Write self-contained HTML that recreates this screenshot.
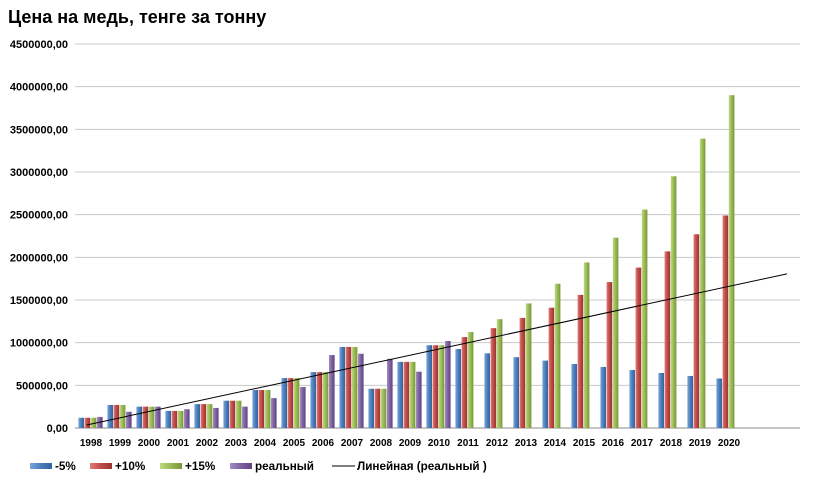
<!DOCTYPE html>
<html><head><meta charset="utf-8"><style>
body{margin:0;background:#fff;font-family:"Liberation Sans","DejaVu Sans",sans-serif}
</style></head><body>
<svg id="c" width="813" height="489" xmlns="http://www.w3.org/2000/svg">
<defs>
<linearGradient id="gb" x1="0" x2="1"><stop offset="0" stop-color="#7aa6dc"/><stop offset="0.5" stop-color="#4a7ebb"/><stop offset="1" stop-color="#32629c"/></linearGradient>
<linearGradient id="gr" x1="0" x2="1"><stop offset="0" stop-color="#e07a77"/><stop offset="0.5" stop-color="#be4b48"/><stop offset="1" stop-color="#9a3431"/></linearGradient>
<linearGradient id="gg" x1="0" x2="1"><stop offset="0" stop-color="#bddb7e"/><stop offset="0.5" stop-color="#98b954"/><stop offset="1" stop-color="#77963a"/></linearGradient>
<linearGradient id="gp" x1="0" x2="1"><stop offset="0" stop-color="#a68bc8"/><stop offset="0.5" stop-color="#7d60a0"/><stop offset="1" stop-color="#5e457e"/></linearGradient>
</defs>
<text x="8" y="23" font-size="18" font-weight="bold" fill="#000">Цена на медь, тенге за тонну</text>
<g id="grid"></g><g id="bars"></g><g id="trend"></g><g id="legend"></g>
</svg>
<script>
const categories=["1998","1999","2000","2001","2002","2003","2004","2005","2006","2007","2008","2009","2010","2011","2012","2013","2014","2015","2016","2017","2018","2019","2020"];
const minus5=[120000,270000,250000,200000,280000,320000,445000,585000,655000,950000,460000,775000,970000,925000,875000,830000,790000,750000,715000,680000,645000,610000,580000];
const plus10=[120000,270000,250000,200000,280000,320000,445000,585000,655000,950000,460000,775000,970000,1065000,1170000,1290000,1410000,1560000,1710000,1880000,2070000,2270000,2490000];
const plus15=[120000,270000,250000,200000,280000,320000,445000,585000,655000,950000,460000,775000,970000,1125000,1275000,1460000,1690000,1940000,2230000,2560000,2950000,3390000,3900000];
const real=[130000,190000,250000,220000,235000,250000,350000,480000,855000,870000,810000,660000,1020000];
const yTicks=[0,500000,1000000,1500000,2000000,2500000,3000000,3500000,4000000,4500000];
const NS="http://www.w3.org/2000/svg";
const y0=428,yTop=44,vmax=4500000,x0=91,step=29;
const y=v=>y0-(v/vmax)*(y0-yTop);
const xc=i=>x0+i*step;
function mk(tag,attrs,parent){const e=document.createElementNS(NS,tag);for(const k in attrs)e.setAttribute(k,attrs[k]);parent.appendChild(e);return e;}
const grid=document.getElementById('grid');
yTicks.forEach((t,i)=>{
 const l=mk('line',{x1:75,x2:800,y1:y(t),y2:y(t),stroke:i==0?'#888':'#c8c8c8','stroke-width':1},grid);
 
 
 const tx=mk('text',{x:68,y:y(t)+4,'text-anchor':'end','font-size':11,'font-weight':'bold',fill:'#000'},grid);
 tx.textContent=t.toFixed(0)+',00';
 
 
});
categories.forEach((c,i)=>{
 const tx=mk('text',{x:xc(i),y:446,'text-anchor':'middle','font-size':10,'font-weight':'bold',fill:'#000'},grid);
 tx.textContent=c;
 
 
});
const bars=document.getElementById('bars');
const series=[[minus5,'url(#gb)','bar-minus5'],[plus10,'url(#gr)','bar-plus10'],[plus15,'url(#gg)','bar-plus15'],[real,'url(#gp)','bar-real']];
const bw=6.2;
series.forEach((s,si)=>{
 s[0].forEach((v,i)=>{
  if(v==null)return;
  const bx=xc(i)-12.6+si*bw;
  const r=mk('rect',{x:bx,y:y(v),width:bw-0.6,height:y0-y(v),fill:s[1]},bars);
  
  
 });
});
const n=real.length;let mx=0,my=0;real.forEach((v,i)=>{mx+=i;my+=v;});mx/=n;my/=n;
let sxy=0,sxx=0;real.forEach((v,i)=>{sxy+=(i-mx)*(v-my);sxx+=(i-mx)*(i-mx);});
const sl=sxy/sxx,ic=my-sl*mx;
const tr=mk('line',{x1:xc(-0.15),y1:y(ic+sl*-0.15),x2:xc(24),y2:y(ic+sl*24),stroke:'#000','stroke-width':1},document.getElementById('trend'));


const lg=document.getElementById('legend');
const items=[[30,'url(#gb)','-5%'],[90,'url(#gr)','+10%'],[160,'url(#gg)','+15%'],[230,'url(#gp)','реальный']];
items.forEach(it=>{
 const g=mk('g',{},lg);
 
 
 mk('rect',{x:it[0],y:463,width:22,height:6,fill:it[1]},g);
 const t=mk('text',{x:it[0]+25,y:470,'font-size':11.7,'font-weight':'bold',fill:'#000'},g);t.textContent=it[2];
});
const g2=mk('g',{},lg);


mk('line',{x1:332,x2:355,y1:466,y2:466,stroke:'#000','stroke-width':1},g2);
const t2=mk('text',{x:357,y:470,'font-size':11.7,'font-weight':'bold',fill:'#000'},g2);t2.textContent='Линейная (реальный )';
</script>
</body></html>
